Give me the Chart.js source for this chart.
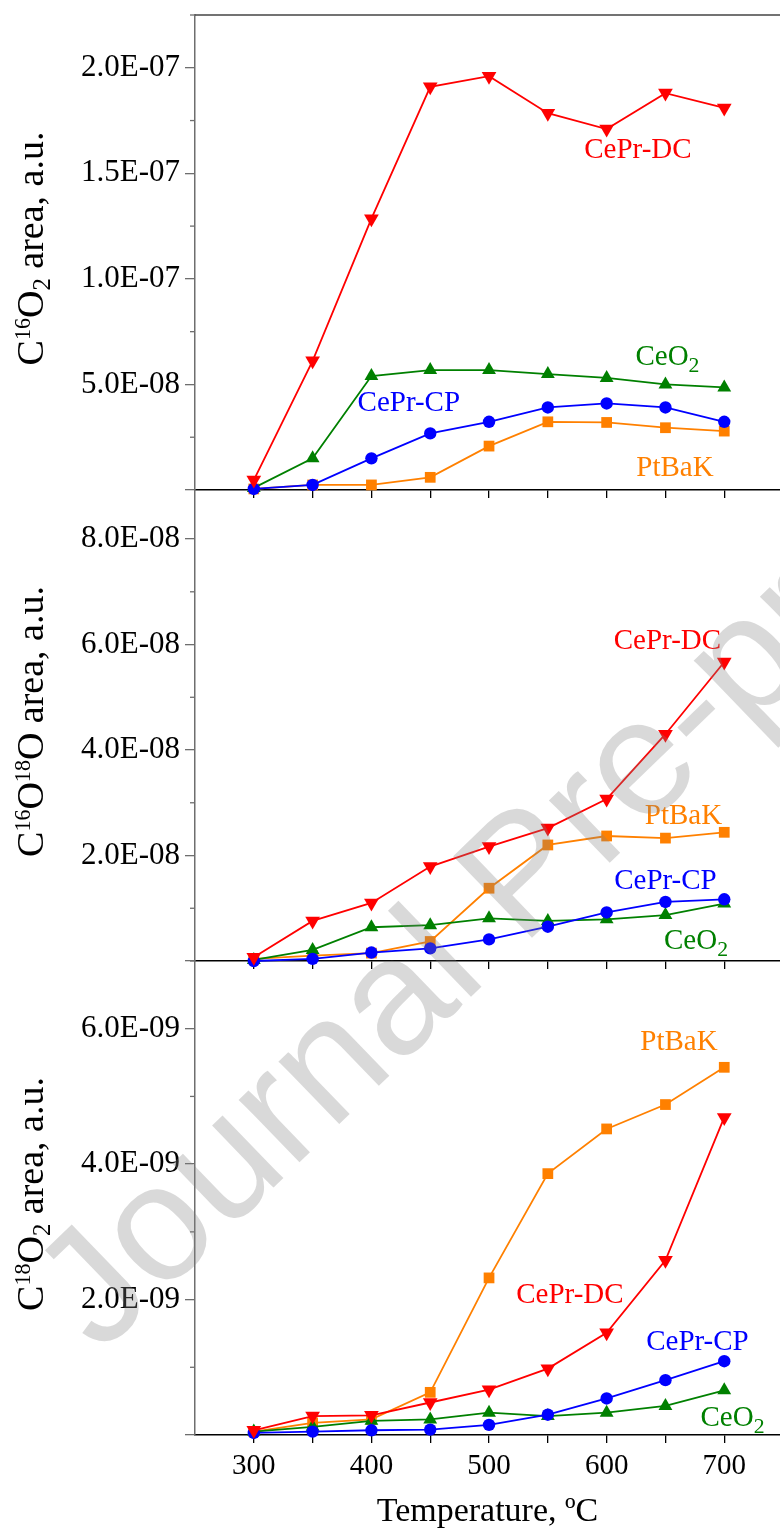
<!DOCTYPE html>
<html>
<head>
<meta charset="utf-8">
<script src="https://cdn.jsdelivr.net/npm/chart.js@4.4.0/dist/chart.umd.min.js"></script>
<style>
html,body{margin:0;padding:0;background:#fff;overflow:hidden;width:780px;height:1535px;position:relative;}
canvas{position:absolute;left:0;}
.chartc{top:-40px;}
#wm{top:0;pointer-events:none;}
</style>
</head>
<body>
<canvas id="c1" class="chartc" width="780" height="1575"></canvas>
<canvas id="c2" class="chartc" width="780" height="1575"></canvas>
<canvas id="c3" class="chartc" width="780" height="1575"></canvas>
<canvas id="wm" width="780" height="1535"></canvas>
<script>
// ---------------- data ----------------
const temperatures = [300, 350, 400, 450, 500, 550, 600, 650, 700];
const xTickValues = [300, 350, 400, 450, 500, 550, 600, 650, 700];
const xTickLabels = ['300', '400', '500', '600', '700'];

// Panel 1: C16O2 area
const c16o2_CePrDC = [0.47e-8, 6.12e-8, 12.85e-8, 19.1e-8, 19.6e-8, 17.85e-8, 17.1e-8, 18.8e-8, 18.1e-8];
const c16o2_CePrCP = [0.05e-8, 0.24e-8, 1.5e-8, 2.68e-8, 3.23e-8, 3.91e-8, 4.1e-8, 3.91e-8, 3.23e-8];
const c16o2_CeO2   = [0.1e-8, 1.5e-8, 5.4e-8, 5.68e-8, 5.68e-8, 5.49e-8, 5.31e-8, 5.0e-8, 4.86e-8];
const c16o2_PtBaK  = [0.05e-8, 0.24e-8, 0.24e-8, 0.6e-8, 2.08e-8, 3.23e-8, 3.2e-8, 2.95e-8, 2.79e-8];
const y1Major = [0, 5e-8, 1e-7, 1.5e-7, 2e-7];
const y1Minor = [2.5e-8, 7.5e-8, 1.25e-7, 1.75e-7, 2.25e-7];

// Panel 2: C16O18O area
const c16o18o_CePrDC = [0.07e-8, 0.76e-8, 1.1e-8, 1.79e-8, 2.17e-8, 2.52e-8, 3.07e-8, 4.3e-8, 5.67e-8];
const c16o18o_CePrCP = [0.0, 0.04e-8, 0.16e-8, 0.24e-8, 0.41e-8, 0.65e-8, 0.92e-8, 1.12e-8, 1.17e-8];
const c16o18o_CeO2   = [0.02e-8, 0.21e-8, 0.64e-8, 0.68e-8, 0.81e-8, 0.76e-8, 0.79e-8, 0.87e-8, 1.09e-8];
const c16o18o_PtBaK  = [0.04e-8, 0.1e-8, 0.15e-8, 0.37e-8, 1.38e-8, 2.2e-8, 2.37e-8, 2.33e-8, 2.44e-8];
const y2Major = [0, 2e-8, 4e-8, 6e-8, 8e-8];
const y2Minor = [1e-8, 3e-8, 5e-8, 7e-8];

// Panel 3: C18O2 area
const c18o2_CePrDC = [0.07e-9, 0.28e-9, 0.29e-9, 0.48e-9, 0.67e-9, 0.98e-9, 1.51e-9, 2.58e-9, 4.69e-9];
const c18o2_CePrCP = [0.03e-9, 0.05e-9, 0.07e-9, 0.08e-9, 0.15e-9, 0.3e-9, 0.54e-9, 0.81e-9, 1.09e-9];
const c18o2_CeO2   = [0.05e-9, 0.12e-9, 0.21e-9, 0.23e-9, 0.33e-9, 0.28e-9, 0.33e-9, 0.43e-9, 0.66e-9];
const c18o2_PtBaK  = [0.05e-9, 0.18e-9, 0.23e-9, 0.63e-9, 2.32e-9, 3.86e-9, 4.52e-9, 4.88e-9, 5.43e-9];
const y3Major = [0, 2e-9, 4e-9, 6e-9];
const y3Minor = [1e-9, 3e-9, 5e-9, 7e-9];

const seriesNames = ['CePr-DC', 'CePr-CP', 'CeO2', 'PtBaK'];

// ---------------- styles ----------------
const OFFSET = 40;          // canvases are shifted up by this amount
const CANVAS_H = 1575;
const COLORS = {'CePr-DC': '#ff0000', 'CePr-CP': '#0000ff', 'CeO2': '#008000', 'PtBaK': '#ff8000'};
const SERIF = '"Liberation Serif", "Times New Roman", serif';
const AXIS_GREY = '#6e6e6e';

function fmtE(v) {
  const parts = v.toExponential(1).split('e');
  const exp = parseInt(parts[1], 10);
  const sign = exp < 0 ? '-' : '+';
  return parts[0] + 'E' + sign + String(Math.abs(exp)).padStart(2, '0');
}

function richWidth(ctx, segs, size) {
  let w = 0;
  for (const s of segs) {
    const sz = s.s ? size * (s.k || 0.65) : size;
    ctx.font = sz + 'px ' + SERIF;
    w += ctx.measureText(s.t).width;
  }
  return w;
}
function drawRich(ctx, segs, x, y, size, color) {
  const w = richWidth(ctx, segs, size);
  let cx = x - w / 2;
  ctx.fillStyle = color;
  ctx.textAlign = 'left';
  ctx.textBaseline = 'alphabetic';
  for (const s of segs) {
    const sz = s.s ? size * (s.k || 0.65) : size;
    ctx.font = sz + 'px ' + SERIF;
    let dy = 0;
    if (s.s === 'sup') dy = -size * (s.r || 0.32);
    if (s.s === 'sub') dy = size * (s.r || 0.2);
    ctx.fillText(s.t, cx, y + dy);
    cx += ctx.measureText(s.t).width;
  }
}

const labelSegs = {
  'CePr-DC': [{t: 'CePr-DC'}],
  'CePr-CP': [{t: 'CePr-CP'}],
  'PtBaK': [{t: 'PtBaK'}],
  'CeO2': [{t: 'CeO'}, {t: '2', s: 'sub', k: 0.75, r: 0.24}]
};

const panels = [
  {
    canvas: 'c1', top: 15, bottom: 490, ymax: 2.25e-7,
    series: [c16o2_CePrDC, c16o2_CePrCP, c16o2_CeO2, c16o2_PtBaK],
    major: y1Major, minor: y1Minor, showX: false, topBorder: true,
    title: [{t: 'C'}, {t: '16', s: 'sup', k: 0.58, r: 0.34}, {t: 'O'}, {t: '2', s: 'sub', k: 0.65, r: 0.18}, {t: ' area, a.u.'}],
    labels: [
      {name: 'CePr-DC', x: 626.6, y: 16.18e-8},
      {name: 'CeO2', x: 651.7, y: 6.39e-8},
      {name: 'CePr-CP', x: 431.8, y: 4.18e-8},
      {name: 'PtBaK', x: 658.1, y: 1.10e-8}
    ]
  },
  {
    canvas: 'c2', top: 490, bottom: 961, ymax: 8.93e-8,
    series: [c16o18o_CePrDC, c16o18o_CePrCP, c16o18o_CeO2, c16o18o_PtBaK],
    major: y2Major, minor: y2Minor, showX: false, topBorder: false,
    title: [{t: 'C'}, {t: '16', s: 'sup', k: 0.58, r: 0.34}, {t: 'O'}, {t: '18', s: 'sup', k: 0.58, r: 0.34}, {t: 'O area, a.u.'}],
    labels: [
      {name: 'CePr-DC', x: 651.7, y: 6.10e-8},
      {name: 'PtBaK', x: 665.3, y: 2.77e-8},
      {name: 'CePr-CP', x: 650.0, y: 1.55e-8},
      {name: 'CeO2', x: 676.0, y: 0.40e-8}
    ]
  },
  {
    canvas: 'c3', top: 961, bottom: 1435, ymax: 7e-9,
    series: [c18o2_CePrDC, c18o2_CePrCP, c18o2_CeO2, c18o2_PtBaK],
    major: y3Major, minor: y3Minor, showX: true, topBorder: false,
    title: [{t: 'C'}, {t: '18', s: 'sup', k: 0.58, r: 0.34}, {t: 'O'}, {t: '2', s: 'sub', k: 0.65, r: 0.18}, {t: ' area, a.u.'}],
    labels: [
      {name: 'PtBaK', x: 661.5, y: 5.83e-9},
      {name: 'CePr-DC', x: 568.8, y: 2.09e-9},
      {name: 'CePr-CP', x: 677.2, y: 1.40e-9},
      {name: 'CeO2', x: 707.0, y: 0.28e-9}
    ]
  }
];

const pointStyles = {
  'CePr-DC': {pointStyle: 'triangle', rotation: 180, radius: 8.5},
  'CePr-CP': {pointStyle: 'circle', rotation: 0, radius: 6.2},
  'CeO2': {pointStyle: 'triangle', rotation: 0, radius: 8},
  'PtBaK': {pointStyle: 'rect', rotation: 0, radius: 7.6}
};

Chart.defaults.animation = false;

panels.forEach((p, idx) => {
  const datasets = seriesNames.map((name, i) => {
    const st = pointStyles[name];
    return {
      label: name,
      data: temperatures.map((t, j) => ({x: t, y: p.series[i][j]})),
      borderColor: COLORS[name],
      backgroundColor: COLORS[name],
      borderWidth: 1.8,
      pointStyle: st.pointStyle,
      pointRotation: st.rotation,
      pointRadius: st.radius,
      pointBorderWidth: 0,
      pointBackgroundColor: COLORS[name],
      tension: 0,
      clip: false
    };
  });

  const plugin = {
    id: 'panelDeco' + idx,
    afterDraw(chart) {
      const ctx = chart.ctx;
      const ca = chart.chartArea;
      const ys = chart.scales.y;
      const xs = chart.scales.x;
      ctx.save();
      ctx.strokeStyle = AXIS_GREY;
      ctx.lineWidth = 1.3;
      p.minor.forEach(v => {
        const yy = ys.getPixelForValue(v);
        if (yy < ca.top - 0.5) return;
        ctx.beginPath();
        ctx.moveTo(ca.left - 5, yy);
        ctx.lineTo(ca.left, yy);
        ctx.stroke();
      });
      if (p.topBorder) {
        ctx.strokeStyle = '#444';
        ctx.lineWidth = 1.5;
        ctx.beginPath();
        ctx.moveTo(ca.left, ca.top);
        ctx.lineTo(ca.right, ca.top);
        ctx.stroke();
      }
      ctx.save();
      ctx.translate(43, (ca.top + ca.bottom) / 2 - 4);
      ctx.rotate(-Math.PI / 2);
      drawRich(ctx, p.title, 0, 0, 38, '#000');
      ctx.restore();
      p.labels.forEach(l => {
        const px = xs.getPixelForValue(l.x);
        const py = ys.getPixelForValue(l.y);
        drawRich(ctx, labelSegs[l.name], px, py + 29 * 0.33, 29, COLORS[l.name]);
      });
      if (p.showX) {
        ctx.font = '34px ' + SERIF;
        ctx.fillStyle = '#000';
        ctx.textAlign = 'center';
        ctx.textBaseline = 'alphabetic';
        ctx.fillText('Temperature, \u00BAC', (ca.left + ca.right) / 2, ca.bottom + 86);
      }
      ctx.restore();
    }
  };

  new Chart(document.getElementById(p.canvas), {
    type: 'line',
    data: {datasets},
    options: {
      responsive: false,
      animation: false,
      layout: {autoPadding: false, padding: {top: p.top + OFFSET, left: 0, right: 0, bottom: 0}},
      plugins: {legend: {display: false}, tooltip: {enabled: false}, title: {display: false}},
      scales: {
        x: {
          type: 'linear', min: 250, max: 747.4,
          afterBuildTicks: s => { s.ticks = xTickValues.map(v => ({value: v})); },
          afterFit: s => { s.height = CANVAS_H - (p.bottom + OFFSET); },
          grid: {display: true, drawOnChartArea: false, drawTicks: true, tickLength: 8, color: '#000', tickColor: '#000', lineWidth: 1.3},
          border: {display: true, color: '#000', width: 1.5},
          ticks: {
            display: true, autoSkip: false, maxRotation: 0, padding: 6, color: '#000',
            font: {family: SERIF, size: 29},
            callback: v => (p.showX && xTickLabels.includes(String(v))) ? String(v) : ''
          }
        },
        y: {
          type: 'linear', min: 0, max: p.ymax,
          afterBuildTicks: s => { s.ticks = p.major.map(v => ({value: v})); },
          afterFit: s => { s.width = 195; },
          grid: {display: true, drawOnChartArea: false, drawTicks: true, tickLength: 10, color: AXIS_GREY, tickColor: AXIS_GREY, lineWidth: 1.3},
          border: {display: true, color: AXIS_GREY, width: 1.5},
          ticks: {
            padding: 5, color: '#000', autoSkip: false,
            font: {family: SERIF, size: 31},
            callback: v => v === 0 ? '' : fmtE(v)
          }
        }
      }
    },
    plugins: [plugin]
  });
});

// watermark overlay
(function () {
  const c = document.getElementById('wm').getContext('2d');
  c.save();
  c.translate(100, 1355);
  c.rotate(-44 * Math.PI / 180);
  c.font = '165px "Liberation Sans", Arial, sans-serif';
  c.fillStyle = 'rgba(128,128,128,0.3)';
  c.textBaseline = 'alphabetic';
  c.fillText('Journal Pre-proof', 0, 0);
  c.restore();
})();
</script>
</body>
</html>
